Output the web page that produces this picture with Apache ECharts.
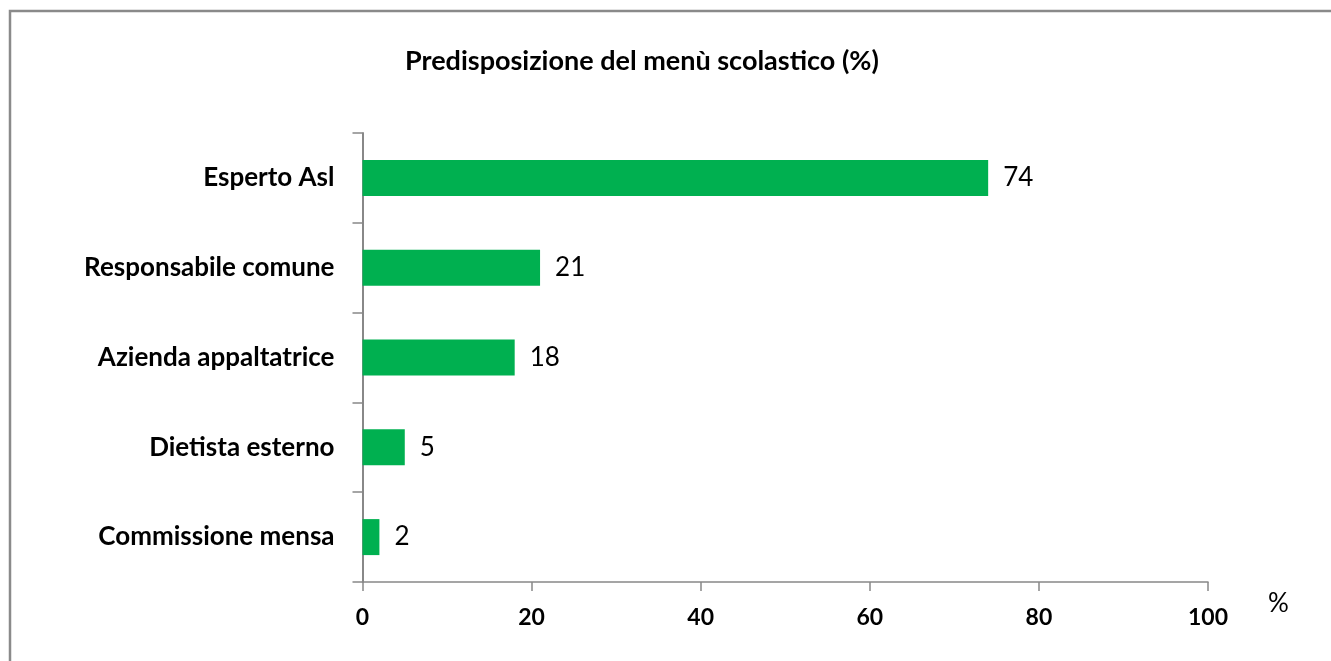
<!DOCTYPE html>
<html>
<head>
<meta charset="utf-8">
<script src="https://cdn.jsdelivr.net/npm/echarts@6/dist/echarts.min.js"></script>
<style>
html,body{margin:0;padding:0;background:#fff;}
#chart{width:1331px;height:661px;}
</style>
</head>
<body>
<div id="chart"></div>
<script>
const titleText = 'Predisposizione del menù scolastico (%)';
const categories = ['Esperto Asl', 'Responsabile comune', 'Azienda appaltatrice', 'Dietista esterno', 'Commissione mensa'];
const values = [74, 21, 18, 5, 2];
const xTicks = { min: 0, max: 100, interval: 20 };
const xAxisName = '%';

const FONT = 'Lato, "Open Sans", sans-serif';
const chart = echarts.init(document.getElementById('chart'), null, { renderer: 'canvas' });
chart.setOption({
  animation: false,
  backgroundColor: '#ffffff',
  title: {
    text: titleText,
    left: 400,
    top: 43,
    textStyle: { fontFamily: FONT, fontSize: 27, fontWeight: 'bold', color: '#000' }
  },
  graphic: [{
    type: 'rect',
    shape: { x: 10, y: 11, width: 1500, height: 800 },
    style: { fill: 'none', stroke: '#8a8a8a', lineWidth: 2.5 },
    silent: true
  }],
  grid: { left: 362.5, right: 123, top: 133, bottom: 79 },
  xAxis: {
    type: 'value',
    min: xTicks.min, max: xTicks.max, interval: xTicks.interval,
    name: xAxisName,
    nameLocation: 'end',
    nameGap: 60,
    nameTextStyle: { fontFamily: FONT, fontSize: 26, color: '#000', verticalAlign: 'top', align: 'left', padding: [9, 0, 0, 0] },
    axisLine: { show: true, lineStyle: { color: '#888', width: 1.5 } },
    axisTick: { show: true, length: 9, lineStyle: { color: '#888', width: 1.5 } },
    axisLabel: { fontFamily: FONT, fontSize: 23, fontWeight: 'bold', color: '#000', margin: 24 },
    splitLine: { show: false }
  },
  yAxis: {
    type: 'category',
    data: categories,
    inverse: true,
    axisLine: { show: true, lineStyle: { color: '#888', width: 2 } },
    axisTick: { show: true, length: 10, alignWithLabel: false, lineStyle: { color: '#888', width: 1.5 } },
    axisLabel: { fontFamily: FONT, fontSize: 26, fontWeight: 'bold', color: '#000', margin: 28 },
    splitLine: { show: false }
  },
  series: [{
    type: 'bar',
    data: values,
    barWidth: 36,
    itemStyle: { color: '#00B050' },
    label: {
      show: true, position: 'right', distance: 15,
      fontFamily: FONT, fontSize: 26, color: '#000'
    }
  }]
});
</script>
</body>
</html>
